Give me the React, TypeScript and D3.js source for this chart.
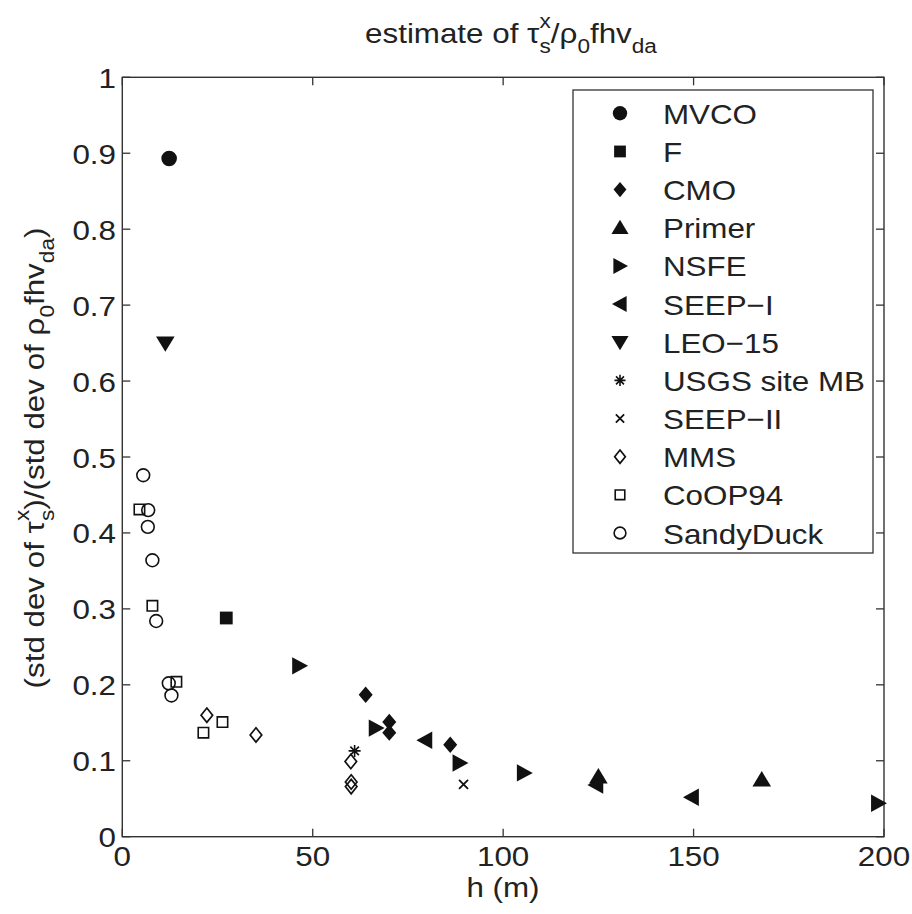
import React, { useEffect, useRef } from "react";
import * as d3 from "d3";

const W = 912;
const H = 914;
const PLOT = { left: 122.3, right: 884, top: 77.3, bottom: 836.7 };
const FS = 28.5;
const SX = 1.1;
const FONT = "'Liberation Sans', Arial, Helvetica, sans-serif";
const INK = "#111";
const AXIS = "#333";

const X_TICKS = [0, 50, 100, 150, 200];
const X_TICK_LABELS = ["0", "50", "100", "150", "200"];
const Y_TICKS = [0, 0.1, 0.2, 0.3, 0.4, 0.5, 0.6, 0.7, 0.8, 0.9, 1];
const Y_TICK_LABELS = ["0", "0.1", "0.2", "0.3", "0.4", "0.5", "0.6", "0.7", "0.8", "0.9", "1"];

// data: depth h (m) and ratio
const MVCO_H = [12.3];
const MVCO_R = [0.893];
const F_H = [27.3];
const F_R = [0.288];
const CMO_H = [63.9, 70.1, 70.1, 86.1];
const CMO_R = [0.187, 0.151, 0.137, 0.121];
const PRIMER_H = [125.0, 167.9];
const PRIMER_R = [0.079, 0.075];
const NSFE_H = [46.5, 66.6, 88.6, 105.5, 198.5];
const NSFE_R = [0.225, 0.143, 0.097, 0.084, 0.044];
const SEEP1_H = [79.5, 124.4, 149.5];
const SEEP1_R = [0.127, 0.068, 0.052];
const LEO_H = [11.3];
const LEO_R = [0.65];
const USGS_H = [61.0];
const USGS_R = [0.113];
const SEEP2_H = [89.6];
const SEEP2_R = [0.069];
const MMS_H = [22.2, 35.1, 60.0, 60.1, 60.1];
const MMS_R = [0.16, 0.134, 0.099, 0.072, 0.066];
const COOP_H = [4.5, 7.9, 14.2, 21.3, 26.3];
const COOP_R = [0.431, 0.304, 0.204, 0.137, 0.151];
const SANDY_H = [5.5, 6.8, 6.7, 7.9, 8.9, 12.2, 12.9];
const SANDY_R = [0.476, 0.43, 0.408, 0.364, 0.284, 0.202, 0.186];

const SERIES = [
  { name: "MVCO", shape: "circleF", h: MVCO_H, r: MVCO_R },
  { name: "F", shape: "squareF", h: F_H, r: F_R },
  { name: "CMO", shape: "diamondF", h: CMO_H, r: CMO_R },
  { name: "Primer", shape: "triUp", h: PRIMER_H, r: PRIMER_R },
  { name: "NSFE", shape: "triRight", h: NSFE_H, r: NSFE_R },
  { name: "SEEP\u2212I", shape: "triLeft", h: SEEP1_H, r: SEEP1_R },
  { name: "LEO\u221215", shape: "triDown", h: LEO_H, r: LEO_R },
  { name: "USGS site MB", shape: "aster", h: USGS_H, r: USGS_R },
  { name: "SEEP\u2212II", shape: "cross", h: SEEP2_H, r: SEEP2_R },
  { name: "MMS", shape: "diamondO", h: MMS_H, r: MMS_R },
  { name: "CoOP94", shape: "squareO", h: COOP_H, r: COOP_R },
  { name: "SandyDuck", shape: "circleO", h: SANDY_H, r: SANDY_R },
];

function marker(shape: string, s = 1) {
  const k = (v: number) => (v * s).toFixed(2);
  switch (shape) {
    case "circleF": {
      const r = 7.8 * s;
      return { d: `M${-r},0A${r},${r} 0 1,0 ${r},0A${r},${r} 0 1,0 ${-r},0Z`, fill: INK, stroke: "none", sw: 0 };
    }
    case "circleO": {
      const r = 6.4 * s;
      return { d: `M${-r},0A${r},${r} 0 1,0 ${r},0A${r},${r} 0 1,0 ${-r},0Z`, fill: "none", stroke: INK, sw: 1.6 };
    }
    case "squareF":
      return { d: `M${k(-6.4)},${k(-6.4)}H${k(6.4)}V${k(6.4)}H${k(-6.4)}Z`, fill: INK, stroke: "none", sw: 0 };
    case "squareO":
      return { d: `M${k(-5.2)},${k(-5.2)}H${k(5.2)}V${k(5.2)}H${k(-5.2)}Z`, fill: "none", stroke: INK, sw: 1.6 };
    case "diamondF":
      return { d: `M0,${k(-8.2)}L${k(7)},0L0,${k(8.2)}L${k(-7)},0Z`, fill: INK, stroke: "none", sw: 0 };
    case "diamondO":
      return { d: `M0,${k(-7.2)}L${k(5.8)},0L0,${k(7.2)}L${k(-5.8)},0Z`, fill: "none", stroke: INK, sw: 1.7 };
    case "triUp":
      return { d: `M0,${k(-8.7)}L${k(9.3)},${k(6.7)}L${k(-9.3)},${k(6.7)}Z`, fill: INK, stroke: "none", sw: 0 };
    case "triDown":
      return { d: `M0,${k(8.7)}L${k(9.3)},${k(-6.7)}L${k(-9.3)},${k(-6.7)}Z`, fill: INK, stroke: "none", sw: 0 };
    case "triRight":
      return { d: `M${k(8.7)},0L${k(-7.2)},${k(-8.7)}L${k(-7.2)},${k(8.7)}Z`, fill: INK, stroke: "none", sw: 0 };
    case "triLeft":
      return { d: `M${k(-8.7)},0L${k(7.2)},${k(-8.7)}L${k(7.2)},${k(8.7)}Z`, fill: INK, stroke: "none", sw: 0 };
    case "aster":
      return {
        d: `M${k(-6)},0L${k(6)},0M0,${k(-6)}L0,${k(6)}M${k(-4.3)},${k(-4.3)}L${k(4.3)},${k(4.3)}M${k(-4.3)},${k(4.3)}L${k(4.3)},${k(-4.3)}`,
        fill: "none", stroke: INK, sw: 1.6,
      };
    case "cross":
      return { d: `M${k(-4.5)},${k(-4.5)}L${k(4.5)},${k(4.5)}M${k(-4.5)},${k(4.5)}L${k(4.5)},${k(-4.5)}`, fill: "none", stroke: INK, sw: 1.8 };
  }
  return { d: "", fill: "none", stroke: "none", sw: 0 };
}

type Part = { t?: string; sub?: string; sup?: string };

function drawRich(g: any, parts: Part[], fs: number) {
  const small = fs * 0.72;
  let cx = 0;
  const add = (txt: string, x: number, y: number, size: number) => {
    const t = g.append("text").attr("x", x).attr("y", y).attr("font-size", size).attr("font-family", FONT).attr("fill", "#222").text(txt);
    return (t.node() as SVGTextElement).getComputedTextLength();
  };
  for (const p of parts) {
    if (p.t !== undefined) {
      cx += add(p.t, cx, 0, fs);
    } else {
      let w = 0;
      if (p.sub !== undefined) w = Math.max(w, add(p.sub, cx, 10, small));
      if (p.sup !== undefined) w = Math.max(w, add(p.sup, cx, -15, small));
      cx += w;
    }
  }
  return cx;
}

export default function App() {
  const ref = useRef<SVGSVGElement>(null);

  useEffect(() => {
    const svg = d3.select(ref.current);
    svg.selectAll("*").remove();

    const x = d3.scaleLinear().domain([0, 200]).range([PLOT.left, PLOT.right]);
    const y = d3.scaleLinear().domain([0, 1]).range([PLOT.bottom, PLOT.top]);

    svg.append("rect").attr("width", W).attr("height", H).attr("fill", "#fff");

    // axes box
    svg.append("rect")
      .attr("x", PLOT.left).attr("y", PLOT.top)
      .attr("width", PLOT.right - PLOT.left).attr("height", PLOT.bottom - PLOT.top)
      .attr("fill", "none").attr("stroke", AXIS).attr("stroke-width", 1.4);

    const TL = 8;
    const ticks = svg.append("g").attr("stroke", AXIS).attr("stroke-width", 1.3);
    X_TICKS.forEach((v) => {
      ticks.append("line").attr("x1", x(v)).attr("x2", x(v)).attr("y1", PLOT.bottom).attr("y2", PLOT.bottom - TL);
      ticks.append("line").attr("x1", x(v)).attr("x2", x(v)).attr("y1", PLOT.top).attr("y2", PLOT.top + TL);
    });
    Y_TICKS.forEach((v) => {
      ticks.append("line").attr("x1", PLOT.left).attr("x2", PLOT.left + TL).attr("y1", y(v)).attr("y2", y(v));
      ticks.append("line").attr("x1", PLOT.right).attr("x2", PLOT.right - TL).attr("y1", y(v)).attr("y2", y(v));
    });

    // tick labels
    X_TICKS.forEach((v, i) => {
      svg.append("g").attr("transform", `translate(${x(v)},866) scale(${SX},1)`)
        .append("text").attr("text-anchor", "middle").attr("font-size", FS).attr("font-family", FONT).attr("fill", "#222")
        .text(X_TICK_LABELS[i]);
    });
    Y_TICKS.forEach((v, i) => {
      svg.append("g").attr("transform", `translate(116,${y(v) + 10.5}) scale(${SX},1)`)
        .append("text").attr("text-anchor", "end").attr("font-size", FS).attr("font-family", FONT).attr("fill", "#222")
        .text(Y_TICK_LABELS[i]);
    });

    // x label
    svg.append("g").attr("transform", `translate(503,897) scale(${SX},1)`)
      .append("text").attr("text-anchor", "middle").attr("font-size", FS).attr("font-family", FONT).attr("fill", "#222")
      .text("h (m)");

    // title
    const tg = svg.append("g");
    const tin = tg.append("g");
    const tw = drawRich(tin, [
      { t: "estimate of \u03C4" }, { sub: "s", sup: "x" }, { t: "/\u03C1" }, { sub: "0" }, { t: "fhv" }, { sub: "da" },
    ], FS);
    tin.attr("transform", `translate(${-tw / 2},0)`);
    tg.attr("transform", `translate(511,43) scale(${SX},1)`);

    // y label
    const yg = svg.append("g");
    const yin = yg.append("g");
    const yw = drawRich(yin, [
      { t: "(std dev of \u03C4" }, { sub: "s", sup: "x" }, { t: ")/(std dev of \u03C1" }, { sub: "0" }, { t: "fhv" }, { sub: "da" }, { t: ")" },
    ], FS);
    yin.attr("transform", `translate(${-yw / 2},0)`);
    yg.attr("transform", `translate(44,458) rotate(-90) scale(${SX},1)`);

    // points
    const pts = svg.append("g");
    SERIES.forEach((s) => {
      const m = marker(s.shape);
      s.h.forEach((hv, i) => {
        pts.append("path")
          .attr("transform", `translate(${x(hv)},${y(s.r[i])})`)
          .attr("d", m.d).attr("fill", m.fill).attr("stroke", m.stroke).attr("stroke-width", m.sw);
      });
    });

    // legend
    const LG = { x: 573, y: 90, w: 300, h: 463 };
    const lg = svg.append("g");
    lg.append("rect").attr("x", LG.x).attr("y", LG.y).attr("width", LG.w).attr("height", LG.h)
      .attr("fill", "#fff").attr("stroke", AXIS).attr("stroke-width", 1.3);
    const rowY = d3.scaleLinear().domain([0, SERIES.length - 1]).range([113.3, 533]);
    SERIES.forEach((s, i) => {
      const m = marker(s.shape, 0.92);
      lg.append("path").attr("transform", `translate(620,${rowY(i)})`)
        .attr("d", m.d).attr("fill", m.fill).attr("stroke", m.stroke).attr("stroke-width", m.sw);
      lg.append("g").attr("transform", `translate(663,${rowY(i) + 10.5}) scale(${SX},1)`)
        .append("text").attr("font-size", FS).attr("font-family", FONT).attr("fill", "#222").text(s.name);
    });
  }, []);

  return (
    <svg ref={ref} width={W} height={H} style={{ display: "block", position: "absolute", left: 0, top: 0 }} />
  );
}
